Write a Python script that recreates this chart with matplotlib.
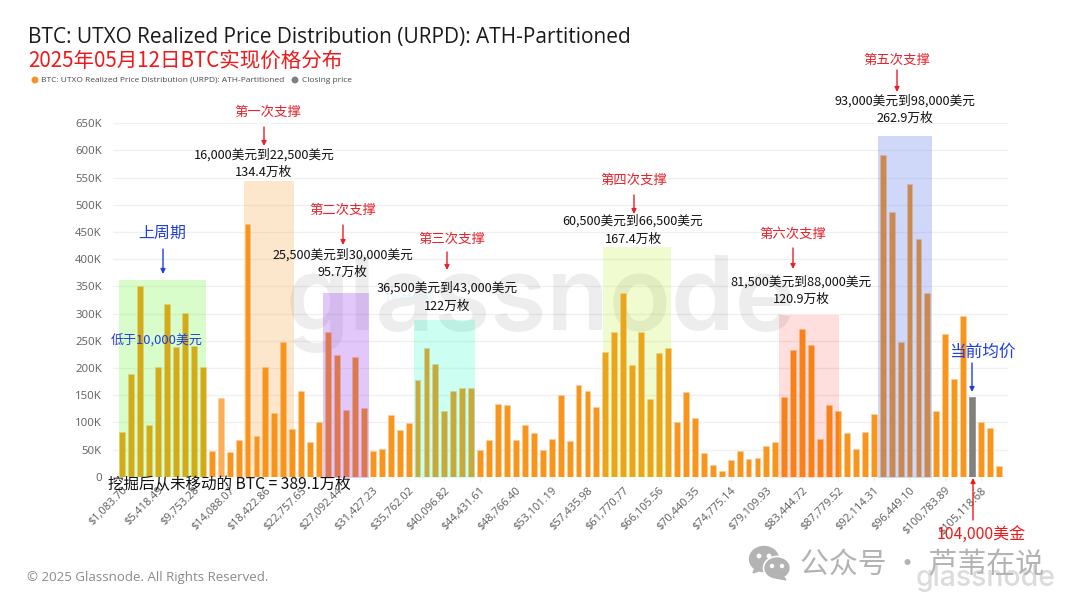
import matplotlib
matplotlib.use("Agg")
import matplotlib.pyplot as plt
from matplotlib.patches import Rectangle, Ellipse, FancyArrowPatch, Polygon
from matplotlib.transforms import Affine2D

CJK = ['Noto Sans CJK SC', 'DejaVu Sans']
plt.rcParams['font.family'] = CJK

urpd_values = [
    83, 188, 351, 95, 202, 318, 238, 301, 240, 202,
    48, 145, 45, 67, 464, 74, 202, 117, 248, 88,
    158, 64, 100, 267, 224, 123, 221, 127, 48, 51,
    114, 86, 98, 178, 236, 207, 121, 158, 164, 163,
    49, 68, 133, 132, 68, 95, 80, 49, 70, 151,
    66, 169, 157, 129, 229, 266, 337, 205, 266, 143,
    228, 237, 100, 155, 108, 44, 22, 10, 31, 47,
    33, 34, 57, 64, 146, 233, 272, 242, 69, 132,
    120, 80, 51, 82, 116, 592, 486, 247, 539, 437,
    338, 120, 262, 180, 296, 147, 101, 89, 20,
]
closing_bin = 95
faded_bin = 11
tick_bins = list(range(0, 97, 4))
tick_labels = [
    "$1,083.70", "$5,418.49", "$9,753.28", "$14,088.07", "$18,422.86",
    "$22,757.65", "$27,092.44", "$31,427.23", "$35,762.02", "$40,096.82",
    "$44,431.61", "$48,766.40", "$53,101.19", "$57,435.98", "$61,770.77",
    "$66,105.56", "$70,440.35", "$74,775.14", "$79,109.93", "$83,444.72",
    "$87,779.52", "$92,114.31", "$96,449.10", "$100,783.89", "$105,118.68",
]
y_ticks = list(range(0, 651, 50))

W, H = 1080, 608
fig = plt.figure(figsize=(W / 100, H / 100), dpi=100, facecolor='white')
T = Affine2D().scale(1 / W, -1 / H).translate(0, 1) + fig.transFigure

AX_L, AX_R, AX_T, AX_B = 113, 1008, 123.3, 476.7
STEP = (999 - 122.3) / 98
ax = fig.add_axes([AX_L / W, 1 - AX_B / H, (AX_R - AX_L) / W, (AX_B - AX_T) / H])
ax.set_xlim(-(122.3 - AX_L) / STEP, 98 + (AX_R - 999) / STEP)
ax.set_ylim(0, 650)
ax.set_axisbelow(True)

colors = ['#f8951d'] * len(urpd_values)
colors[closing_bin] = '#808080'
colors[faded_bin] = '#fbae55'
ax.bar(range(len(urpd_values)), urpd_values, width=0.66, color=colors,
       edgecolor='#fbd09a', linewidth=0.4, zorder=3)
ax.patches[closing_bin].set_edgecolor('#808080')

ax.grid(axis='y', color='#f0f0f0', linewidth=1)
ax.set_yticks(y_ticks)
ax.set_yticklabels(['0' if v == 0 else f'{v}K' for v in y_ticks],
                   fontsize=8.2, color='#5f5f5f', family='Open Sans')
ax.set_xticks(tick_bins)
ax.set_xticklabels(tick_labels, rotation=45, ha='right', rotation_mode='anchor',
                   fontsize=7.9, color='#5a5a5a', family='Open Sans')
ax.tick_params(axis='y', length=0, pad=8)
ax.tick_params(axis='x', length=3, color='#eeeeee', pad=3)
for s in ax.spines.values():
    s.set_visible(False)

# shaded zones
zones = [
    (119, 205.7, 279.7, 477, '#4afa07', .21),
    (243.5, 294, 181, 477, '#f8931a', .22),
    (323, 369, 293, 477.5, '#8f27ef', .25),
    (414, 475, 319.7, 477.5, '#00ffb9', .20),
    (603, 671, 247, 477, '#b4eb14', .20),
    (778.7, 839, 314.7, 478, '#ff0000', .13),
    (878, 932, 136, 477.7, '#4367eb', .25),
]
for x0, x1, y0, y1, c, a in zones:
    fig.add_artist(Rectangle((x0, y0), x1 - x0, y1 - y0, transform=T,
                             facecolor=c, alpha=a, edgecolor='none', zorder=4))

def txt(x, y, s, size, color='#111111', ha='center', va='center', fam=None, **kw):
    return fig.text(x, y, s, transform=T, fontsize=size, color=color, ha=ha, va=va,
                    family=fam or CJK, zorder=6, **kw)

def arrow(x, y0, y1, color):
    fig.add_artist(FancyArrowPatch((x, y0), (x, y1), transform=T, arrowstyle='-|>',
                                   mutation_scale=7, lw=1, color=color,
                                   shrinkA=0, shrinkB=0, zorder=6))

# watermarks
ax.text(541, 330, 'glassnode', transform=T, fontsize=73.5, color='#000000', ha='center', va='baseline',
        family='Inter', alpha=.07, fontweight='semibold', zorder=1, clip_on=False)
txt(986, 579, 'glassnode', 20.5, color='#000000', fam='Inter', alpha=.14, fontweight='medium')
txt(385, 298, 'Twitter @', 8, color='#dff3f8', ha='left', fam='Open Sans')

# titles and legend
txt(28, 37, 'BTC: UTXO Realized Price Distribution (URPD): ATH-Partitioned', 15.05,
    ha='left', fam='Open Sans', color='#1a1a1a')
txt(28, 61, '2025年05月12日BTC实现价格分布', 14.75, color='#f01818', ha='left')
fig.add_artist(Ellipse((35, 80), 5.5, 5.5, transform=T, color='#f7931a', zorder=6))
txt(41, 80, 'BTC: UTXO Realized Price Distribution (URPD): ATH-Partitioned', 6.05,
    color='#4a4a4a', ha='left', fam='Open Sans')
fig.add_artist(Ellipse((295, 80), 5.5, 5.5, transform=T, color='#808080', zorder=6))
txt(302, 80, 'Closing price', 6.05, color='#4a4a4a', ha='left', fam='Open Sans')

# annotations
RED = '#e8202a'
BLUE = '#1f3fe0'
notes = [
    ('第一次支撑', 268, 112, 264, 127, 146, '16,000美元到22,500美元', '134.4万枚', 264, 155, 172),
    ('第二次支撑', 343, 210, 343, 225, 245, '25,500美元到30,000美元', '95.7万枚', 343, 255, 272),
    ('第三次支撑', 452, 239, 447, 252, 270, '36,500美元到43,000美元', '122万枚', 447, 288, 306),
    ('第四次支撑', 634, 180, 634, 195, 214, '60,500美元到66,500美元', '167.4万枚', 633, 221, 239),
    ('第六次支撑', 793, 234, 793, 248, 269, '81,500美元到88,000美元', '120.9万枚', 801, 282, 299),
    ('第五次支撑', 897, 60, 897, 70, 92, '93,000美元到98,000美元', '262.9万枚', 905, 101, 118),
]
for head, hx, hy, ax_, a0, a1, rng, amt, tx, y1, y2 in notes:
    txt(hx, hy, head, 9.6, color=RED)
    arrow(ax_, a0, a1, RED)
    txt(tx, y1, rng, 9.15)
    txt(tx, y2, amt, 9.15)

txt(162, 233, '上周期', 11.5, color=BLUE)
arrow(163, 249, 274, BLUE)
txt(157, 341, '低于10,000美元', 9.4, color=BLUE)
txt(982, 352, '当前均价', 12, color=BLUE)
arrow(972, 363, 392, BLUE)
txt(981, 534, '104,000美金', 11.5, color='#f01818')
arrow(973, 520, 478, '#f01818')
txt(108, 485, '挖掘后从未移动的 BTC = 389.1万枚', 11.2, ha='left')

# footer
txt(27, 577, '© 2025 Glassnode. All Rights Reserved.', 9.55, color='#8a8a8a', ha='left', fam='Open Sans')

# WeChat mark
GREY = '#b3b3b3'
fig.add_artist(Ellipse((764, 559), 29, 25, transform=T, color=GREY, zorder=6))
fig.add_artist(Polygon([(755, 568), (753, 573), (761, 570)], transform=T, color=GREY, zorder=6))
fig.add_artist(Ellipse((777, 568), 27, 23, transform=T, color=GREY, ec='white', lw=1.2, zorder=6.1))
fig.add_artist(Polygon([(783, 576), (786, 580), (776, 578)], transform=T, color=GREY, zorder=6.1))
for ex, ey, r in [(759, 556, 3.4), (769, 556, 3.4), (772, 566, 3), (782, 566, 3)]:
    fig.add_artist(Ellipse((ex, ey), r, r, transform=T, color='white', zorder=6.2))
txt(800, 565, '公众号 · 芦苇在说', 20.8, color=GREY, ha='left')

fig.savefig('out.png', dpi=100)
